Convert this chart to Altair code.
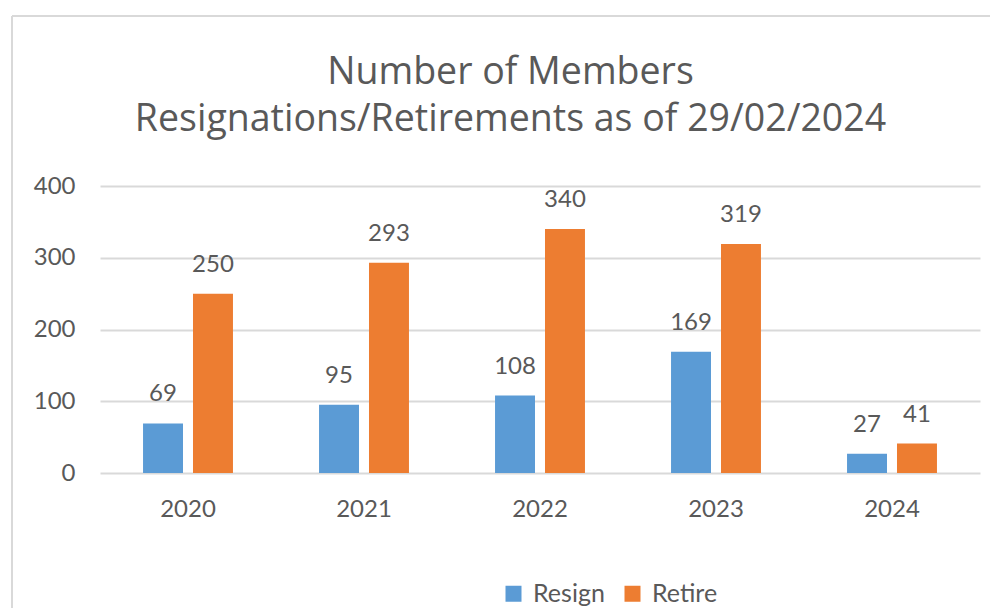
import altair as alt
import pandas as pd

years = ["2020", "2021", "2022", "2023", "2024"]
resign = [69, 95, 108, 169, 27]
retire = [250, 293, 340, 319, 41]
series = ["Resign", "Retire"]
colors = ["#5B9BD5", "#ED7D31"]
y_ticks = [0, 100, 200, 300, 400]

rows = []
for i, yr in enumerate(years):
    rows.append({"year": yr, "series": series[0], "value": resign[i]})
    rows.append({"year": yr, "series": series[1], "value": retire[i]})
df = pd.DataFrame(rows)

FONT = "Lato"
TFONT = "Open Sans"
GRAY = "#595959"
GRID = "#d9d9d9"

x = alt.X("year:N", sort=years,
          scale=alt.Scale(paddingInner=0.489, paddingOuter=0.2445),
          axis=alt.Axis(title=None, labelAngle=0, labelFontSize=24, labelColor=GRAY,
                        labelPadding=24, domain=False, ticks=False, labelFont=FONT))
xo = alt.XOffset("series:N", sort=series,
                 scale=alt.Scale(paddingInner=0.2, paddingOuter=0))
y = alt.Y("value:Q", scale=alt.Scale(domain=[0, 400], nice=False),
          axis=alt.Axis(title=None, values=y_ticks, labelFontSize=24, labelColor=GRAY,
                        labelPadding=25, domain=False, ticks=False, gridColor=GRID,
                        gridWidth=2, labelFont=FONT))
color = alt.Color("series:N", sort=series,
                  scale=alt.Scale(domain=series, range=colors),
                  legend=alt.Legend(title=None, orient="none", legendX=401, legendY=395,
                                    direction="horizontal", symbolType="square",
                                    symbolSize=256, symbolStrokeWidth=0,
                                    labelFontSize=25, labelColor=GRAY, labelFont=FONT,
                                    columnPadding=15, labelOffset=7))

base = alt.Chart(df)
bars = base.mark_bar().encode(x=x, xOffset=xo, y=y, color=color)
labels = base.mark_text(dy=-22, baseline="alphabetic", fontSize=24, color=GRAY, font=FONT).encode(
    x=x, xOffset=xo, y=y, text=alt.Text("value:Q"))

border_v = base.mark_rule(color=GRID, strokeWidth=2).encode(
    x=alt.value(-88), y=alt.value(-170), y2=alt.value(430))
border_h = base.mark_rule(color=GRID, strokeWidth=2).encode(
    x=alt.value(-88), x2=alt.value(905), y=alt.value(-170))

chart = alt.layer(border_v, border_h, bars, labels).properties(
    width=880, height=287,
    autosize=alt.AutoSizeParams(type="none"),
    padding={"left": 92, "top": 178, "right": 10, "bottom": 135},
    title=alt.TitleParams(text=["Number of Members", "Resignations/Retirements as of 29/02/2024"],
                          fontSize=37.5, font=TFONT, fontWeight="normal", color=GRAY,
                          anchor="middle", frame="bounds", offset=-123, lineHeight=47, dx=2),
).configure_view(stroke=None)

chart.save("out.html", embed_options={"renderer": "svg", "actions": False})
